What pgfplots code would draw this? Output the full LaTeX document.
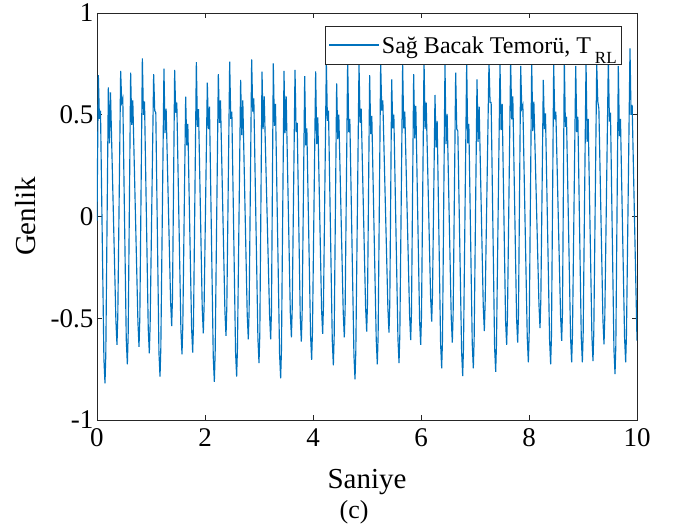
\documentclass[border=0pt]{standalone}
\usepackage{fontspec}
\setmainfont{Liberation Serif}
\usepackage{pgfplots}
\pgfplotsset{compat=1.18}
\definecolor{mblue}{RGB}{0,114,189}
\begin{document}
\begin{tikzpicture}
\useasboundingbox (-97pt,-110pt) rectangle (579pt,420pt);
\begin{axis}[
 at={(0,0)}, anchor=south west,
 scale only axis, width=540pt, height=407pt,
 xmin=0, xmax=10, ymin=-1, ymax=1,
 clip mode=individual,
 xtick={0,2,4,6,8,10}, xticklabels={0,2,4,6,8,10},
 ytick={-1,-0.5,0,0.5,1}, yticklabels={-1,-0.5,0,0.5,1},
 tick align=inside, major tick length=5.5pt,
 every tick/.style={black!85, line width=0.7pt},
 axis line style={black!85, line width=0.7pt},
 ticklabel style={font=\fontsize{27}{32}\selectfont},
 xticklabel style={yshift=-5pt},
 xlabel={Saniye}, ylabel={Genlik},
 label style={font=\fontsize{29}{34}\selectfont},
 xlabel style={at={(axis description cs:0.5,-0.1671)}, anchor=base},
 ylabel style={at={(axis description cs:-0.1315,0.5)}, anchor=center},
 legend style={at={(0.9722,0.968)}, anchor=north east, font=\fontsize{24}{28}\selectfont, draw=black!85, line width=0.7pt, inner xsep=3pt, inner ysep=8pt},
 legend image code/.code={\draw[mblue, line width=1.6pt] (0pt,0.5pt) -- (50pt,0.5pt);},
]
\addplot[mblue, line width=1.15pt] coordinates {
(0,-0.02)
(0.025,0.695) (0.045,0.48) (0.065,0.52) (0.128,-0.70) (0.148,-0.82) (0.163,-0.68)
(0.21,0.635) (0.23,0.36) (0.25,0.61) (0.35,-0.511) (0.37,-0.631) (0.385,-0.491)
(0.438,0.715) (0.458,0.56) (0.478,0.58) (0.542,-0.606) (0.562,-0.726) (0.577,-0.586)
(0.623,0.707) (0.643,0.45) (0.663,0.57) (0.758,-0.52) (0.778,-0.64) (0.793,-0.50)
(0.84,0.777) (0.86,0.50) (0.88,0.565) (0.949,-0.552) (0.969,-0.672) (0.984,-0.532)
(1.049,0.70) (1.069,0.52) (1.089,0.51) (1.147,-0.667) (1.167,-0.787) (1.182,-0.647)
(1.24,0.727) (1.26,0.41) (1.28,0.53) (1.363,-0.418) (1.383,-0.538) (1.398,-0.398)
(1.438,0.72) (1.458,0.51) (1.478,0.56) (1.554,-0.557) (1.574,-0.677) (1.589,-0.537)
(1.642,0.589) (1.662,0.35) (1.682,0.455) (1.752,-0.549) (1.772,-0.669) (1.787,-0.529)
(1.84,0.758) (1.86,0.44) (1.88,0.527) (1.949,-0.454) (1.969,-0.574) (1.984,-0.434)
(2.043,0.658) (2.063,0.43) (2.083,0.54) (2.153,-0.692) (2.173,-0.812) (2.188,-0.672)
(2.247,0.70) (2.267,0.46) (2.287,0.57) (2.369,-0.467) (2.389,-0.587) (2.404,-0.447)
(2.457,0.761) (2.477,0.48) (2.497,0.515) (2.566,-0.667) (2.586,-0.787) (2.601,-0.647)
(2.66,0.671) (2.68,0.40) (2.70,0.57) (2.782,-0.484) (2.802,-0.604) (2.817,-0.464)
(2.864,0.772) (2.884,0.515) (2.904,0.58) (2.98,-0.60) (3.0,-0.72) (3.015,-0.58)
(3.056,0.712) (3.076,0.43) (3.096,0.59) (3.196,-0.484) (3.216,-0.604) (3.231,-0.464)
(3.265,0.753) (3.285,0.445) (3.305,0.553) (3.381,-0.675) (3.401,-0.795) (3.416,-0.655)
(3.463,0.715) (3.483,0.41) (3.503,0.59) (3.58,-0.474) (3.6,-0.594) (3.615,-0.454)
(3.667,0.72) (3.687,0.415) (3.707,0.46) (3.764,-0.495) (3.784,-0.615) (3.799,-0.475)
(3.846,0.69) (3.866,0.35) (3.886,0.433) (3.955,-0.585) (3.975,-0.705) (3.99,-0.565)
(4.049,0.713) (4.069,0.356) (4.089,0.487) (4.159,-0.457) (4.179,-0.577) (4.194,-0.437)
(4.247,0.76) (4.267,0.47) (4.287,0.52) (4.357,-0.611) (4.377,-0.731) (4.392,-0.591)
(4.438,0.654) (4.458,0.38) (4.478,0.50) (4.56,-0.474) (4.58,-0.594) (4.595,-0.454)
(4.642,0.77) (4.662,0.415) (4.682,0.48) (4.758,-0.68) (4.778,-0.80) (4.793,-0.66)
(4.852,0.75) (4.872,0.46) (4.892,0.53) (4.974,-0.446) (4.994,-0.566) (5.009,-0.426)
(5.049,0.695) (5.069,0.405) (5.089,0.494) (5.171,-0.606) (5.191,-0.726) (5.206,-0.586)
(5.253,0.76) (5.273,0.52) (5.293,0.57) (5.387,-0.451) (5.407,-0.571) (5.422,-0.431)
(5.457,0.674) (5.477,0.433) (5.497,0.50) (5.573,-0.60) (5.593,-0.72) (5.608,-0.58)
(5.66,0.75) (5.68,0.433) (5.70,0.515) (5.789,-0.487) (5.809,-0.607) (5.824,-0.467)
(5.864,0.70) (5.884,0.384) (5.904,0.543) (5.974,-0.511) (5.994,-0.631) (6.009,-0.491)
(6.056,0.77) (6.076,0.43) (6.096,0.56) (6.178,-0.397) (6.198,-0.517) (6.213,-0.377)
(6.259,0.597) (6.279,0.34) (6.299,0.47) (6.363,-0.626) (6.383,-0.746) (6.398,-0.606)
(6.444,0.75) (6.464,0.356) (6.484,0.504) (6.56,-0.50) (6.58,-0.62) (6.595,-0.48)
(6.642,0.707) (6.662,0.43) (6.682,0.42) (6.752,-0.664) (6.772,-0.784) (6.787,-0.644)
(6.846,0.76) (6.866,0.36) (6.886,0.455) (6.949,-0.626) (6.969,-0.746) (6.984,-0.606)
(7.037,0.674) (7.057,0.367) (7.077,0.54) (7.153,-0.443) (7.173,-0.563) (7.188,-0.423)
(7.259,0.76) (7.279,0.56) (7.299,0.56) (7.363,-0.643) (7.383,-0.763) (7.398,-0.623)
(7.463,0.75) (7.483,0.425) (7.503,0.553) (7.566,-0.511) (7.586,-0.631) (7.601,-0.491)
(7.66,0.77) (7.68,0.477) (7.70,0.59) (7.77,-0.50) (7.79,-0.62) (7.805,-0.48)
(7.846,0.74) (7.866,0.53) (7.886,0.548) (7.968,-0.597) (7.988,-0.717) (8.003,-0.577)
(8.05,0.76) (8.07,0.42) (8.09,0.565) (8.184,-0.429) (8.204,-0.549) (8.219,-0.409)
(8.265,0.671) (8.285,0.43) (8.305,0.507) (8.381,-0.606) (8.401,-0.726) (8.416,-0.586)
(8.457,0.75) (8.477,0.477) (8.497,0.515) (8.585,-0.491) (8.605,-0.611) (8.62,-0.471)
(8.654,0.77) (8.674,0.44) (8.694,0.49) (8.77,-0.597) (8.79,-0.717) (8.805,-0.577)
(8.865,0.74) (8.885,0.415) (8.905,0.49) (8.968,-0.597) (8.988,-0.717) (9.003,-0.577)
(9.056,0.76) (9.076,0.367) (9.096,0.48) (9.165,-0.59) (9.185,-0.71) (9.20,-0.57)
(9.254,0.75) (9.274,0.565) (9.294,0.53) (9.369,-0.508) (9.389,-0.628) (9.404,-0.488)
(9.469,0.77) (9.489,0.466) (9.509,0.51) (9.573,-0.654) (9.593,-0.774) (9.608,-0.634)
(9.654,0.74) (9.674,0.395) (9.694,0.48) (9.77,-0.597) (9.79,-0.717) (9.805,-0.577)
(9.87,0.826) (9.89,0.50) (9.91,0.548) (10.0,-0.61)
};
\addlegendentry{Sağ Bacak Temorü, T\,\raisebox{-0.42em}{\fontsize{17}{17}\selectfont RL}}
\node[anchor=base, font=\fontsize{26}{30}\selectfont] at (axis description cs:0.476,-0.2408) {(c)};
\end{axis}
\end{tikzpicture}
\end{document}
